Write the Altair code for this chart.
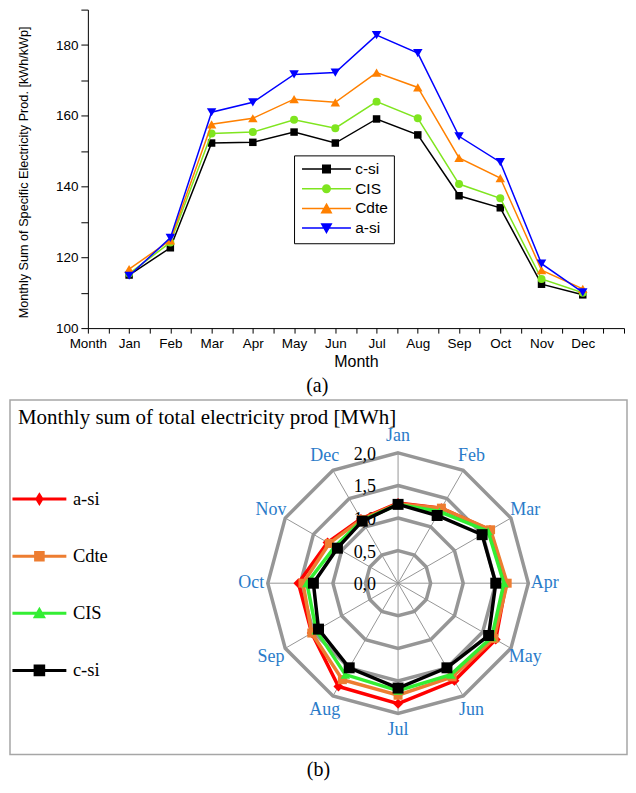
import json
import altair as alt
import pandas as pd

SANS = "Liberation Sans, Arial, sans-serif"
SERIF = "Liberation Serif, Times New Roman, serif"

# ---------------- data ----------------
months = ["Jan", "Feb", "Mar", "Apr", "May", "Jun", "Jul", "Aug", "Sep", "Oct", "Nov", "Dec"]
x_tick_labels = ["Month"] + months

top_series = ["c-si", "CIS", "Cdte", "a-si"]
top_csi = [115.0, 122.7, 152.3, 152.5, 155.4, 152.3, 159.1, 154.6, 137.4, 134.0, 112.4, 109.4]
top_cis = [115.4, 124.2, 155.0, 155.4, 158.9, 156.5, 164.0, 159.3, 140.7, 136.7, 113.9, 110.0]
top_cdte = [116.7, 124.8, 157.6, 159.3, 164.7, 163.8, 172.2, 168.0, 148.1, 142.4, 116.4, 111.1]
top_asi = [114.8, 125.5, 161.0, 163.8, 171.7, 172.2, 182.8, 177.7, 154.2, 146.9, 118.2, 110.1]
top_title_y = "Monthly Sum of Specific Electricity Prod. [kWh/kWp]"

radar_series = ["a-si", "Cdte", "CIS", "c-si"]
rad_asi = [1.23, 1.33, 1.63, 1.66, 1.73, 1.73, 1.85, 1.83, 1.53, 1.53, 1.25, 1.14]
rad_cdte = [1.22, 1.33, 1.64, 1.675, 1.70, 1.66, 1.72, 1.71, 1.53, 1.46, 1.22, 1.13]
rad_cis = [1.21, 1.27, 1.595, 1.625, 1.66, 1.62, 1.65, 1.62, 1.45, 1.40, 1.12, 1.11]
rad_csi = [1.21, 1.20, 1.49, 1.50, 1.605, 1.50, 1.61, 1.50, 1.41, 1.30, 1.075, 1.10]
radial_ticks = [0.0, 0.5, 1.0, 1.5, 2.0]
radial_tick_labels = ["0,0", "0,5", "1,0", "1,5", "2,0"]
radar_title = "Monthly sum of total electricity prod [MWh]"

# ---------------- styles ----------------
top_colors = ["#000000", "#7fe51f", "#ff8000", "#0000ff"]
top_shapes = ["square", "circle", "triangle-up", "triangle-down"]
top_sizes = [56, 64, 90, 90]

radar_colors = ["#ff0000", "#ed7d31", "#33ee33", "#000000"]
radar_shapes = ["diamond", "square", "triangle-up", "square"]
radar_sizes = [100, 81, 90, 121]
month_color = "#2a7bc9"
grid_gray = "#969696"


def sq(h):
    return f"M{-h:.3f},{-h:.3f}H{h:.3f}V{h:.3f}H{-h:.3f}Z"


def circ(r):
    return f"M{-r:.3f},0A{r:.3f},{r:.3f},0,1,0,{r:.3f},0A{r:.3f},{r:.3f},0,1,0,{-r:.3f},0Z"


def tri(w, h, up=True):
    s = -1 if up else 1
    return f"M0,{s*h:.3f}L{w:.3f},{-s*h:.3f}L{-w:.3f},{-s*h:.3f}Z"


def dia(w, h):
    return f"M0,{-h:.3f}L{w:.3f},0L0,{h:.3f}L{-w:.3f},0Z"


def line(half):
    return f"M{-half:.3f},0H{half:.3f}"


# legend symbols: nominal symbol 10 px (size 100) -> 5 px per path unit
SYM = 100
U = 5.0
top_half_line = 24.5
top_legend_paths = [
    line(top_half_line / U) + sq(3.75 / U),
    line(top_half_line / U) + circ(3.75 / U),
    line(top_half_line / U) + tri(4.75 / U, 4.25 / U, True),
    line(top_half_line / U) + tri(4.75 / U, 4.25 / U, False),
]
rad_half_line = 27.0
radar_legend_paths = [
    line(rad_half_line / U) + dia(2.5 / U, 4.0 / U),
    line(rad_half_line / U) + sq(3.8 / U),
    line(rad_half_line / U) + tri(4.0 / U, 3.5 / U, True),
    line(rad_half_line / U) + sq(4.3 / U),
]

# ---------------- top chart ----------------
TOP_W, TOP_H = 615, 319
AX_LEFT = 78  # plot area begins 78 px right of the panel's left edge

top_df = pd.DataFrame(
    [{"m": i + 1, "series": s, "val": v}
     for s, vals in zip(top_series, [top_csi, top_cis, top_cdte, top_asi])
     for i, v in enumerate(vals)]
)

label_expr_x = (
    f"datum.value % 1 == 0 && datum.value < {len(x_tick_labels)} ? "
    f"{json.dumps(x_tick_labels)}[datum.value] : ''"
)

X = alt.X(
    "m:Q",
    scale=alt.Scale(domain=[0, 13], range=[AX_LEFT, TOP_W], nice=False, zero=False),
    axis=alt.Axis(
        values=[i / 2 for i in range(27)], labelExpr=label_expr_x,
        title="Month", titleFont=SANS, titleFontSize=16, titleFontWeight="normal",
        titleY=33, titleBaseline="middle", titleColor="black",
        labelFont=SANS, labelFontSize=13.5, labelColor="black", labelPadding=3,
        labelOverlap=False, labelFlush=False, tickSize=5, tickColor="black",
        domainColor="black", grid=False,
    ),
)
Y = alt.Y(
    "val:Q",
    scale=alt.Scale(domain=[100, 190], nice=False, zero=False),
    axis=alt.Axis(
        values=list(range(100, 191, 10)), offset=-AX_LEFT,
        labelExpr="datum.value % 20 == 0 ? '' + datum.value : ''",
        labelFontSize={"condition": {"test": "datum.value > 185", "value": 0}, "value": 13.5},
        labelFont=SANS, labelColor="black", labelPadding=3, labelOverlap=False,
        labelFlush=False, tickSize=7, tickColor="black", domainColor="black", grid=False,
        title=top_title_y, titleFont=SANS, titleFontSize=12.7, titleFontWeight="normal",
        titleColor="black", titleX=-64, titleY=TOP_H / 2 + 3, titleAngle=-90,
        titleBaseline="middle", titleAlign="center",
    ),
)

base_top = alt.Chart(top_df)
top_layers = []
for s, c, shp, sz in zip(top_series, top_colors, top_shapes, top_sizes):
    sub = base_top.transform_filter(alt.datum.series == s)
    top_layers.append(sub.mark_line(color=c, strokeWidth=1.5).encode(x=X, y=Y))
    top_layers.append(
        sub.mark_point(shape=shp, filled=True, size=sz, color=c, opacity=1).encode(x=X, y=Y)
    )

legA = alt.Legend(
    orient="none", legendX=284.5, legendY=146, title=None,
    symbolSize=SYM, symbolStrokeWidth=1.5,
    symbolOffset=top_half_line - (SYM ** 0.5 + 1.5) / 2,
    labelOffset=21,
    labelFont=SANS, labelFontSize=15.5, labelColor="black",
    rowPadding=2.7, padding=6, strokeColor="black", fillColor="white",
)
top_legend_layer = base_top.transform_filter("false").mark_point(
    filled=True, size=SYM, strokeWidth=1.5, opacity=1
).encode(
    x=X, y=Y,
    fill=alt.Fill("series:N", scale=alt.Scale(domain=top_series, range=top_colors), legend=legA),
    stroke=alt.Stroke("series:N", scale=alt.Scale(domain=top_series, range=top_colors), legend=legA),
    shape=alt.Shape("series:N", scale=alt.Scale(domain=top_series, range=top_legend_paths), legend=legA),
)

top = alt.layer(*top_layers, top_legend_layer).properties(
    width=TOP_W, height=TOP_H,
    title=alt.TitleParams("(a)", orient="bottom", anchor="middle", frame="bounds", offset=7,
                          font=SERIF, fontSize=20, fontWeight="normal", color="black"),
)

# ---------------- radar chart ----------------
PX_PER_UNIT = 65.25
B_W, B_H = 618, 355
CX, CY = 388.7, 183.5
label_radius = 147 / PX_PER_UNIT
xdom = [-CX / PX_PER_UNIT, (B_W - CX) / PX_PER_UNIT]
ydom = [-(B_H - CY) / PX_PER_UNIT, CY / PX_PER_UNIT]
xs = alt.Scale(domain=xdom, nice=False, zero=False)
ys = alt.Scale(domain=ydom, nice=False, zero=False)
RX = alt.X("px:Q", scale=xs, axis=None)
RY = alt.Y("py:Q", scale=ys, axis=None)


def polar(ch, rfield):
    return ch.transform_calculate(
        px=f"datum.{rfield} * sin(datum.k * PI / 6)",
        py=f"datum.{rfield} * cos(datum.k * PI / 6)",
    )


rad_df = pd.DataFrame(
    [{"tech": s, "k": i, "v": v}
     for s, vals in zip(radar_series, [rad_asi, rad_cdte, rad_cis, rad_csi])
     for i, v in enumerate(vals)]
)
ring_df = pd.DataFrame([{"r": r, "k": k} for r in radial_ticks[1:] for k in range(12)])
spoke_df = pd.DataFrame([{"r": radial_ticks[-1], "k": k, "zero": 0.0} for k in range(12)])
month_df = pd.DataFrame([{"k": k, "name": m, "r": label_radius} for k, m in enumerate(months)])
tick_df = pd.DataFrame({"v": radial_ticks, "lab": radial_tick_labels, "zero": 0.0})

rings = polar(alt.Chart(ring_df), "r").mark_line(
    interpolate="linear-closed", color=grid_gray, strokeWidth=3.5
).encode(x=RX, y=RY, detail="r:N", order="k:Q")

spokes = polar(alt.Chart(spoke_df), "r").mark_rule(color=grid_gray, strokeWidth=1).encode(
    x=alt.X("zero:Q", scale=xs, axis=None), y=alt.Y("zero:Q", scale=ys, axis=None),
    x2="px:Q", y2="py:Q",
)

tick_labels = alt.Chart(tick_df).mark_text(
    align="right", baseline="middle", dx=-22, dy=2, font=SERIF, fontSize=18, color="black"
).encode(x=alt.X("zero:Q", scale=xs, axis=None), y=alt.Y("v:Q", scale=ys, axis=None), text="lab:N")

month_labels = polar(alt.Chart(month_df), "r").mark_text(
    align="center", baseline="middle", font=SERIF, fontSize=18, color=month_color
).encode(x=RX, y=RY, text="name:N")

base_rad = polar(alt.Chart(rad_df), "v")
rad_layers = []
for s, c, shp, sz in zip(radar_series, radar_colors, radar_shapes, radar_sizes):
    sub = base_rad.transform_filter(alt.datum.tech == s)
    rad_layers.append(
        sub.mark_line(interpolate="linear-closed", color=c, strokeWidth=3.5).encode(
            x=RX, y=RY, order="k:Q")
    )
    rad_layers.append(
        sub.mark_point(shape=shp, filled=True, size=sz, color=c, opacity=1).encode(x=RX, y=RY)
    )

legB = alt.Legend(
    orient="none", legendX=-0.3, legendY=90, title=None,
    symbolSize=SYM, symbolStrokeWidth=3,
    symbolOffset=rad_half_line - (SYM ** 0.5 + 3) / 2,
    labelOffset=24.3,
    labelFont=SERIF, labelFontSize=18.5, labelColor="black",
    rowPadding=36.2, padding=0,
)
rad_legend_layer = base_rad.transform_filter("false").mark_point(
    filled=True, size=SYM, strokeWidth=3, opacity=1
).encode(
    x=RX, y=RY,
    fill=alt.Fill("tech:N", scale=alt.Scale(domain=radar_series, range=radar_colors), legend=legB),
    stroke=alt.Stroke("tech:N", scale=alt.Scale(domain=radar_series, range=radar_colors), legend=legB),
    shape=alt.Shape("tech:N", scale=alt.Scale(domain=radar_series, range=radar_legend_paths), legend=legB),
)

title_text = alt.Chart(pd.DataFrame({"t": [radar_title]})).mark_text(
    align="left", baseline="middle", font=SERIF, fontSize=21, color="black"
).encode(x=alt.value(8), y=alt.value(18), text="t:N")

bottom = alt.layer(
    rings, spokes, tick_labels, month_labels, *rad_layers, rad_legend_layer, title_text
).properties(
    width=B_W, height=B_H,
    view=alt.ViewBackground(stroke="#a6a6a6", strokeWidth=1.5),
    title=alt.TitleParams("(b)", orient="bottom", anchor="middle", offset=6,
                          font=SERIF, fontSize=20, fontWeight="normal", color="black"),
)

chart = alt.vconcat(top, bottom, spacing=3).properties(
    padding=0
).resolve_scale(
    fill="independent", stroke="independent", shape="independent"
).configure_view(stroke=None)

chart.save("out.html", embed_options={"renderer": "svg", "actions": False})
